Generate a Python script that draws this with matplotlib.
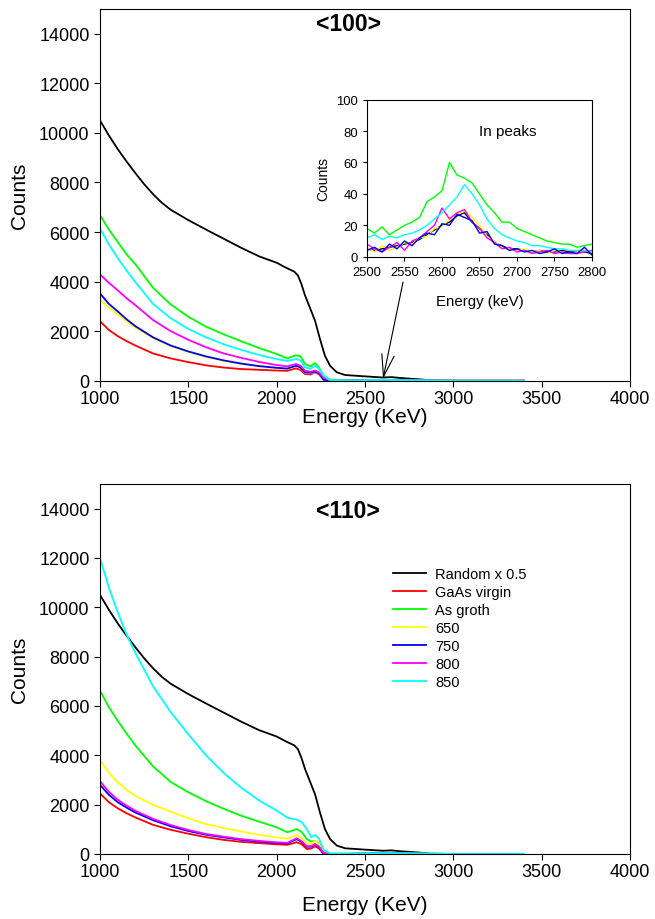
import numpy as np
import matplotlib
matplotlib.use('Agg')
import matplotlib.pyplot as plt

plt.rcParams['font.family'] = ['Liberation Sans', 'DejaVu Sans']

# ---- <100> channel spectra (energy keV, counts) ----
black_e = [1000, 1050, 1100, 1150, 1200, 1250, 1300, 1350, 1400, 1500, 1600, 1700, 1800, 1900, 2000,
           2050, 2100, 2120, 2140, 2160, 2180, 2217, 2245, 2273, 2302, 2340, 2387, 2500, 2600, 2650,
           2700, 2800, 2850]
black_c = [10500, 9900, 9350, 8850, 8380, 7930, 7530, 7180, 6900, 6480, 6100, 5730, 5360, 5020, 4760,
           4570, 4400, 4250, 3900, 3450, 3090, 2420, 1680, 1010, 605, 340, 230, 175, 130, 145,
           110, 60, 30]

e100 = [1000, 1050, 1100, 1150, 1200, 1300, 1400, 1500, 1600, 1700, 1800, 1900, 2000, 2060, 2110,
        2135, 2160, 2190, 2217, 2240, 2265, 2300, 2400, 2600, 3000, 3400]
red100 = [2400, 2050, 1800, 1600, 1420, 1100, 900, 750, 620, 530, 470, 440, 410, 400, 500,
          430, 270, 250, 340, 250, 60, 0, 0, 10, 0, 0]
green100 = [6680, 6100, 5600, 5100, 4700, 3750, 3080, 2580, 2180, 1870, 1590, 1320, 1080, 900, 1030,
            980, 680, 580, 715, 520, 200, 50, 15, 40, 3, 0]
yellow100 = [3280, 2950, 2700, 2400, 2150, 1720, 1400, 1160, 960, 800, 680, 580, 510, 480, 590,
             520, 330, 310, 350, 280, 40, 5, 5, 25, 0, 0]
blue100 = [3520, 3100, 2800, 2480, 2200, 1750, 1420, 1180, 980, 820, 690, 590, 520, 490, 605,
           530, 340, 320, 365, 290, 40, 5, 5, 25, 0, 0]
magenta100 = [4290, 3950, 3650, 3330, 3050, 2450, 2000, 1650, 1350, 1100, 920, 760, 630, 580, 675,
              600, 405, 360, 410, 330, 135, 10, 5, 25, 0, 0]
cyan100 = [6140, 5500, 4950, 4450, 3980, 3100, 2520, 2090, 1750, 1470, 1240, 1040, 870, 800, 875,
           820, 540, 480, 605, 480, 200, 30, 10, 35, 0, 0]

# ---- <110> channel spectra ----
e110 = [1000, 1050, 1100, 1150, 1200, 1300, 1400, 1500, 1600, 1700, 1800, 1900, 2000, 2060, 2113,
        2140, 2170, 2195, 2217, 2240, 2264, 2300, 2400, 2600, 3000, 3400]
red110 = [2450, 2100, 1850, 1650, 1480, 1180, 980, 820, 680, 570, 490, 440, 390, 370, 475,
          400, 200, 220, 310, 220, 10, 0, 0, 10, 0, 0]
green110 = [6620, 5950, 5400, 4880, 4400, 3550, 2920, 2500, 2140, 1830, 1550, 1310, 1080, 880, 1010,
            900, 610, 500, 540, 420, 130, 10, 10, 40, 3, 0]
yellow110 = [3800, 3300, 2900, 2600, 2350, 1990, 1710, 1450, 1210, 1050, 910, 770, 670, 620, 770,
             650, 405, 420, 540, 400, 75, 5, 5, 25, 0, 0]
blue110 = [2800, 2400, 2100, 1880, 1680, 1370, 1120, 930, 780, 670, 570, 500, 445, 425, 600,
           490, 290, 300, 385, 280, 35, 0, 5, 25, 0, 0]
magenta110 = [2950, 2520, 2200, 1960, 1750, 1420, 1170, 970, 810, 700, 600, 530, 470, 450, 635,
              520, 310, 320, 405, 300, 40, 0, 5, 25, 0, 0]
cyan110 = [12000, 10800, 9800, 8900, 8150, 6800, 5750, 4850, 4000, 3280, 2680, 2170, 1760, 1470, 1390,
           1300, 1010, 680, 770, 610, 175, 30, 10, 35, 0, 0]

# ---- inset: In peaks, <100> ----
ins_e = np.arange(2500, 2801, 10)
ins_black = [5, 4, 5, 6, 7, 8, 9, 11, 14, 17, 20, 22, 26, 28, 22, 18, 14, 9, 7, 5, 5, 4, 3, 4, 3, 3, 4, 3, 3, 3, 2]
ins_yellow = [6, 3, 7, 4, 6, 9, 8, 12, 13, 18, 19, 24, 27, 29, 25, 20, 13, 10, 6, 5, 4, 5, 3, 4, 2, 4, 3, 2, 3, 4, 3]
ins_blue = [4, 6, 3, 8, 5, 10, 7, 12, 15, 14, 21, 20, 27, 25, 23, 15, 16, 8, 7, 4, 5, 3, 4, 2, 3, 5, 2, 3, 2, 6, 1]
ins_magenta = [8, 5, 3, 6, 9, 4, 10, 12, 16, 20, 31, 24, 28, 30, 22, 18, 12, 9, 5, 6, 3, 4, 2, 3, 4, 2, 3, 2, 2, 3, 4]
ins_cyan = [12, 14, 11, 13, 12, 14, 15, 17, 20, 24, 28, 33, 38, 46, 40, 33, 24, 18, 14, 12, 10, 9, 7, 7, 6, 5, 5, 4, 4, 4, 3]
ins_green = [18, 15, 19, 14, 17, 20, 22, 25, 35, 38, 42, 60, 52, 50, 47, 40, 33, 28, 22, 22, 18, 16, 14, 12, 10, 9, 8, 8, 6, 7, 8]

labels = ['Random x 0.5', 'GaAs virgin', 'As groth', '650', '750', '800', '850']
colors = ['black', 'red', '#00ff00', '#ffff00', 'blue', 'magenta', 'cyan']

fig = plt.figure(figsize=(6.55, 9.2), dpi=100)
ax1 = fig.add_axes([0.1527, 0.5851, 0.8092, 0.404])
ax2 = fig.add_axes([0.1527, 0.0707, 0.8092, 0.4022])

sets = [
    (ax1, e100, [red100, green100, yellow100, blue100, magenta100, cyan100], 0),
    (ax2, e110, [red110, green110, yellow110, blue110, magenta110, cyan110], 11),
]
for ax, e, series, xpad in sets:
    ax.plot(black_e, black_c, color='black', lw=1.3, label=labels[0])
    for s, c, lab in zip(series, colors[1:], labels[1:]):
        ax.plot(e, s, color=c, lw=1.3, label=lab)
    ax.set_xlim(1000, 4000)
    ax.set_ylim(0, 15000)
    ax.set_xticks(np.arange(1000, 4001, 500))
    ax.set_yticks(np.arange(0, 14001, 2000))
    ax.tick_params(direction='out', length=4, labelsize=13)
    ax.tick_params(axis='x', pad=2.5)
    ax.set_xlabel('Energy (KeV)', fontsize=15, labelpad=xpad)
    ax.set_ylabel('Counts', fontsize=15, labelpad=7)

ax1.text(0.468, 0.96, '<100>', transform=ax1.transAxes, ha='center', va='center',
         fontsize=16.5, fontweight='bold')
ax2.text(0.468, 0.927, '<110>', transform=ax2.transAxes, ha='center', va='center',
         fontsize=16.5, fontweight='bold')

ax2.legend(loc='upper left', bbox_to_anchor=(0.553, 0.776), frameon=False, fontsize=10.5,
           borderpad=0, borderaxespad=0, handlelength=2.27, handletextpad=0.62, labelspacing=0.28)

ax1.annotate('', xy=(2602, 80), xytext=(2715, 3980),
             arrowprops=dict(arrowstyle='->,head_length=1.6,head_width=0.45', color='black',
                             lw=0.8, mutation_scale=10, shrinkA=0, shrinkB=0))

# inset
axi = fig.add_axes([0.5603, 0.7199, 0.3435, 0.1707])
for s, c in zip([ins_black, ins_green, ins_yellow, ins_magenta, ins_cyan, ins_blue],
                ['black', '#00ff00', '#ffff00', 'magenta', 'cyan', 'blue']):
    axi.plot(ins_e, s, color=c, lw=1.0)
axi.set_xlim(2500, 2800)
axi.set_ylim(0, 100)
axi.set_xticks(np.arange(2500, 2801, 50))
axi.set_yticks(np.arange(0, 101, 20))
axi.tick_params(direction='out', length=3, labelsize=9.4)
axi.set_xlabel('Energy (keV)', fontsize=10.8, labelpad=12)
axi.set_ylabel('Counts', fontsize=10)
axi.text(2649, 80, 'In peaks', fontsize=11, ha='left', va='center')

fig.savefig('out.png', dpi=100)
